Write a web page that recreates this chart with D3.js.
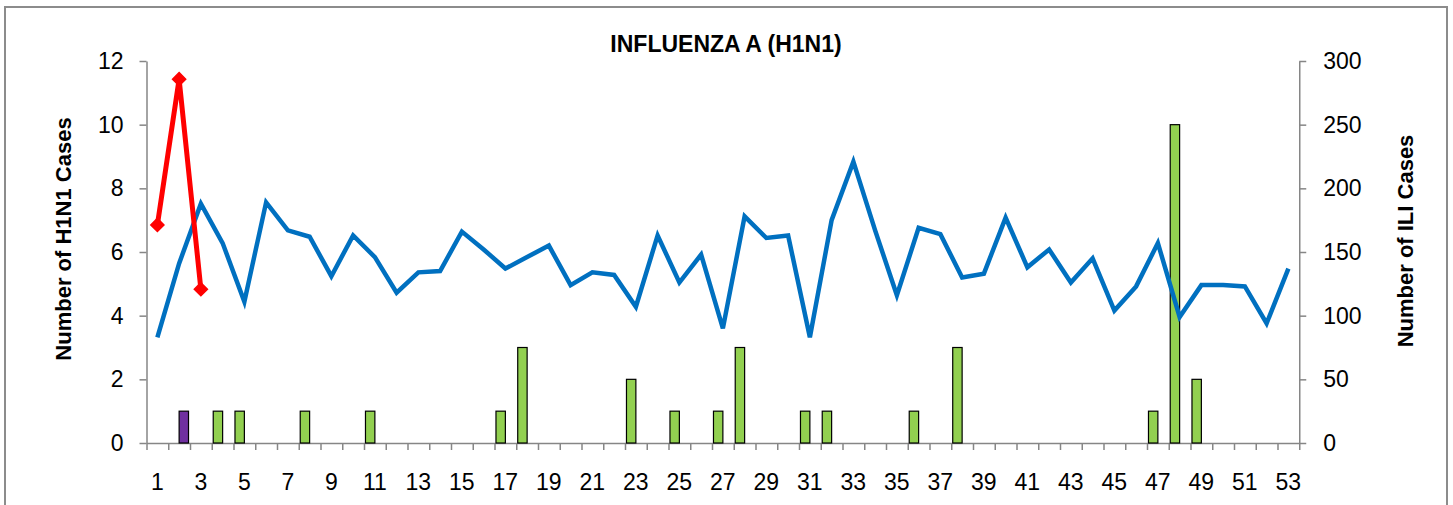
<!DOCTYPE html>
<html>
<head>
<meta charset="utf-8">
<script src="https://cdn.jsdelivr.net/npm/d3@7"></script>
<style>
  body{margin:0;background:#fff;}
  svg text{font-family:"Liberation Sans",Arial,sans-serif;}
</style>
</head>
<body>
<svg id="chart" width="1453" height="505"></svg>
<script>
// weeks 1..53
var weeks=d3.range(1,54);
// ILI cases, right axis
var iliCases=[83,141,188,157,111,189,167,162,131,163,146,118,134,135,166,152,137,146,155,124,
              134,132,107,163,126,148,90,178,161,163,83,175,221,167,116,169,164,130,133,177,
              138,152,126,145,104,123,157,99,124,124,123,94,137];
// H1N1 cases (green bars)
var h1n1Weeks=[4,5,8,11,17,18,23,25,27,28,31,32,36,38,47,48,49];
var h1n1Vals =[1,1,1,1,1,3,2,1,1,3,1,1,1,3,1,10,2];
// second bar series (purple)
var otherWeeks=[2];
var otherVals=[1];
// red line, left axis
var redWeeks=[1,2,3];
var redVals=[6.85,11.43,4.83];
var leftTicks=[0,2,4,6,8,10,12];
var rightTicks=[0,50,100,150,200,250,300];

var svg=d3.select('#chart');
var plotLeft=146.5, plotRight=1299.25, plotTop=61, plotBottom=443;
var axisColor='#868686';

// outer frame
svg.append('rect')
    .attr('x',5).attr('y',7).attr('width',1442).attr('height',510)
    .attr('fill','none').attr('stroke','#8c8c8c').attr('stroke-width',2);

var x=d3.scaleBand().domain(weeks).range([plotLeft,plotRight]).paddingInner(0).paddingOuter(0);
var xLin=d3.scaleLinear().domain([0,53]).range([plotLeft,plotRight]);
var xSub=d3.scaleBand().domain([0,1]).range([0,x.bandwidth()]).paddingInner(0).paddingOuter(0.157);
var yL=d3.scaleLinear().domain([0,12]).range([plotBottom,plotTop]);
var yR=d3.scaleLinear().domain([0,300]).range([plotBottom,plotTop]);

// title
svg.append('text')
    .attr('x',726).attr('y',52)
    .attr('text-anchor','middle')
    .style('font-size','23px').style('font-weight','bold')
    .text('INFLUENZA A (H1N1)');

function styleAxis(g){
    g.select('.domain').attr('stroke',axisColor).attr('stroke-width',1.5);
    g.selectAll('.tick line').attr('stroke',axisColor).attr('stroke-width',1.5);
    g.selectAll('text').style('font-size','23px').attr('fill','#000')
        .style('font-family','"Liberation Sans",Arial,sans-serif');
}

// left axis
var gL=svg.append('g').attr('transform','translate('+plotLeft+',0)')
    .call(d3.axisLeft(yL).tickValues(leftTicks).tickSizeInner(7).tickSizeOuter(0).tickPadding(16));
styleAxis(gL);

// right axis
var gR=svg.append('g').attr('transform','translate('+plotRight+',0)')
    .call(d3.axisRight(yR).tickValues(rightTicks).tickSizeInner(7).tickSizeOuter(0).tickPadding(17));
styleAxis(gR);

// bottom axis: tick marks on week boundaries
var gB=svg.append('g').attr('transform','translate(0,'+plotBottom+')')
    .call(d3.axisBottom(xLin).tickValues(d3.range(0,54)).tickSizeInner(7).tickSizeOuter(0).tickFormat(''));
styleAxis(gB);

// bottom labels for odd weeks
var gBL=svg.append('g').attr('transform','translate(0,'+plotBottom+')')
    .call(d3.axisBottom(x).tickValues(weeks.filter(function(w){return w%2==1;})).tickSize(0).tickPadding(31));
gBL.select('.domain').remove();
styleAxis(gBL);

// axis titles
svg.append('text')
    .attr('transform','translate(71,239) rotate(-90)')
    .attr('text-anchor','middle')
    .style('font-size','22px').style('font-weight','bold')
    .text('Number of H1N1 Cases');
svg.append('text')
    .attr('transform','translate(1413,241) rotate(-90)')
    .attr('text-anchor','middle')
    .style('font-size','22px').style('font-weight','bold')
    .text('Number of ILI Cases');

// bars
svg.append('g').selectAll('rect')
    .data(h1n1Weeks.map(function(w,i){return {w:w,v:h1n1Vals[i]};}))
    .enter().append('rect')
    .attr('x',function(d){return x(d.w)+xSub(0);})
    .attr('y',function(d){return yL(d.v);})
    .attr('width',xSub.bandwidth())
    .attr('height',function(d){return yL(0)-yL(d.v);})
    .attr('fill','#92D050').attr('stroke','#000').attr('stroke-width',1.2);

svg.append('g').selectAll('rect')
    .data(otherWeeks.map(function(w,i){return {w:w,v:otherVals[i]};}))
    .enter().append('rect')
    .attr('x',function(d){return x(d.w)+xSub(1);})
    .attr('y',function(d){return yL(d.v);})
    .attr('width',xSub.bandwidth())
    .attr('height',function(d){return yL(0)-yL(d.v);})
    .attr('fill','#7030A0').attr('stroke','#000').attr('stroke-width',1.2);

// ILI line
var cx=function(w){return x(w)+x.bandwidth()/2;};
svg.append('path')
    .datum(iliCases)
    .attr('d',d3.line().x(function(d,i){return cx(weeks[i]);}).y(function(d){return yR(d);}))
    .attr('fill','none').attr('stroke','#0070C0').attr('stroke-width',4.5)
    .attr('stroke-linejoin','miter');

// red line with diamonds
svg.append('path')
    .datum(redVals)
    .attr('d',d3.line().x(function(d,i){return cx(redWeeks[i]);}).y(function(d){return yL(d);}))
    .attr('fill','none').attr('stroke','#FF0000').attr('stroke-width',5);
svg.append('g').selectAll('path')
    .data(redVals)
    .enter().append('path')
    .attr('d',d3.symbol().type(d3.symbolDiamond2).size(110))
    .attr('transform',function(d,i){return 'translate('+cx(redWeeks[i])+','+yL(d)+')';})
    .attr('fill','#FF0000').attr('stroke','#FF0000').attr('stroke-width',1.5);
</script>
</body>
</html>
